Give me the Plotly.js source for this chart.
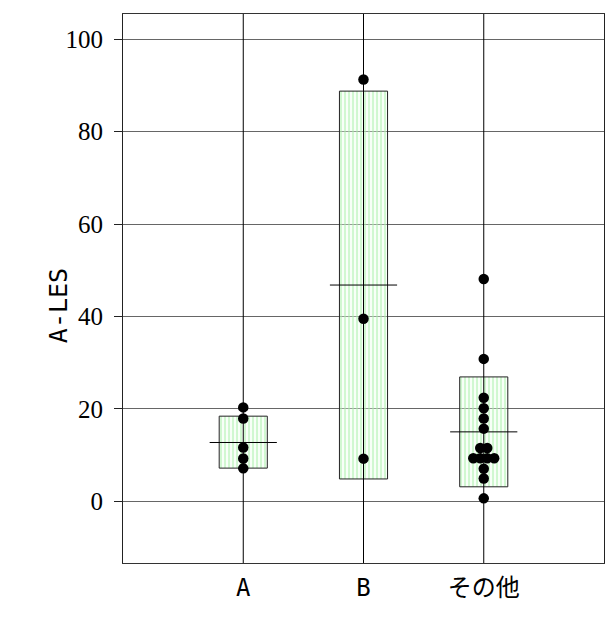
<!DOCTYPE html>
<html>
<head>
<meta charset="utf-8">
<script src="https://cdn.plot.ly/plotly-3.0.1.min.js"></script>
<style>html,body{margin:0;padding:0;background:#fff;}#chart{width:605px;height:618px;}</style>
</head>
<body>
<div id="chart"></div>
<script>
// ---- data ----
const categories = ['A', 'B', 'その他'];
const pointsA = [20.3, 17.9, 11.6, 9.25, 7.1];
const pointsB = [91.3, 39.5, 9.2];
const pointsOther = [48.1, 30.8, 22.4, 20.1, 17.9, 15.7, 11.5, 11.5, 9.3, 9.3, 9.3, 9.3, 7.0, 4.9, 0.6];
const boxLow = [7.15, 4.8, 3.1];
const boxHigh = [18.4, 88.8, 26.9];
const means = [12.7, 46.8, 15.0];
const yTickVals = [0, 20, 40, 60, 80, 100];
const yTitle = 'A-LES';

const groups = [pointsA, pointsB, pointsOther];
const catIdx = categories.map((c, i) => i);

// spread identical values horizontally (dot-plot style)
const spread = 0.058;
const px = [], py = [];
groups.forEach((vals, gi) => {
  const counts = {};
  vals.forEach(v => { counts[v] = (counts[v] || 0) + 1; });
  const seen = {};
  vals.forEach(v => {
    const n = counts[v];
    const k = seen[v] = (seen[v] === undefined ? 0 : seen[v] + 1);
    px.push(gi + (k - (n - 1) / 2) * spread);
    py.push(v);
  });
});

const boxTrace = {
  type: 'bar',
  x: catIdx,
  base: boxLow,
  y: boxHigh.map((h, i) => h - boxLow[i]),
  width: 0.4,
  marker: {
    color: 'rgba(215,250,215,0.45)',
    line: {color: '#222', width: 1},
    pattern: {shape: '|', size: 4, solidity: 0.45, fgcolor: 'rgba(170,240,170,0.55)', bgcolor: 'rgba(235,255,235,0.35)', fillmode: 'replace'}
  },
  hoverinfo: 'skip',
  showlegend: false
};

const meanTrace = {
  type: 'scatter',
  mode: 'markers',
  x: catIdx,
  y: means,
  marker: {symbol: 'line-ew', size: 48, color: '#000', line: {color: '#000', width: 1}},
  showlegend: false,
  hoverinfo: 'skip'
};

const pointTrace = {
  type: 'scatter',
  mode: 'markers',
  x: px,
  y: py,
  marker: {symbol: 'circle', size: 10.5, color: '#000'},
  showlegend: false
};

const vlines = catIdx.map(i => ({
  type: 'line', xref: 'x', yref: 'paper', x0: i, x1: i, y0: 0, y1: 1,
  line: {color: '#000', width: 1}, layer: 'above'
}));

const labelFont = '"DejaVu Sans Mono", "Noto Sans CJK JP", monospace';

const layout = {
  width: 605,
  height: 618,
  margin: {l: 123, r: 1, t: 14, b: 55},
  paper_bgcolor: '#fff',
  plot_bgcolor: '#fff',
  showlegend: false,
  barmode: 'overlay',
  shapes: vlines,
  annotations: [{
    text: yTitle, textangle: -90, xref: 'paper', yref: 'paper',
    x: -0.135, y: 0.468, xanchor: 'center', yanchor: 'middle', showarrow: false,
    font: {family: labelFont, size: 25, color: '#000'}
  }],
  xaxis: {
    range: [-1, 3],
    tickvals: catIdx,
    ticktext: categories,
    showgrid: false,
    zeroline: false,
    showline: true,
    mirror: true,
    linecolor: '#333',
    linewidth: 1,
    ticks: '',
    ticklabelstandoff: 3,
    tickfont: {family: labelFont, size: 24, color: '#000'}
  },
  yaxis: {
    range: [-13.4, 105.5],
    tickvals: yTickVals,
    showgrid: true,
    gridcolor: '#666',
    gridwidth: 1,
    zeroline: false,
    showline: true,
    mirror: true,
    linecolor: '#222',
    linewidth: 1,
    ticks: 'outside',
    ticklen: 8,
    tickcolor: '#222',
    ticklabelstandoff: 6,
    tickfont: {family: '"Liberation Serif", "Times New Roman", serif', size: 25, color: '#000'}
  }
};

Plotly.newPlot('chart', [boxTrace, meanTrace, pointTrace], layout, {displayModeBar: false, staticPlot: true});
</script>
</body>
</html>
